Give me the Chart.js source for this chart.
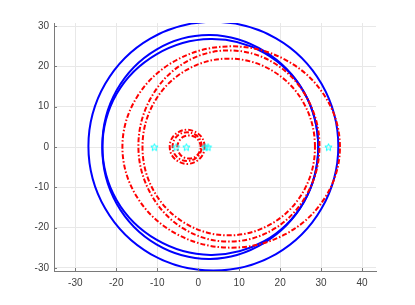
<!DOCTYPE html>
<html>
<head>
<meta charset="utf-8">
<script src="https://cdn.jsdelivr.net/npm/chart.js@4/dist/chart.umd.min.js"></script>
<style>
  body { margin: 0; background: #fff; }
</style>
</head>
<body>
<canvas id="orbitChart" width="415" height="305"></canvas>
<script>
const xTicks = [-30, -20, -10, 0, 10, 20, 30, 40];
const yTicks = [-30, -20, -10, 0, 10, 20, 30];

// blue loops (solid)
const blueOuter = [[34.2, 0.2], [30.1, 15.7], [19.0, 27.0], [3.7, 31.1], [-11.6, 27.0], [-22.7, 15.7],
  [-26.8, 0.2], [-22.7, -15.3], [-11.6, -26.6], [3.7, -30.7], [19.0, -26.6], [30.1, -15.3]];
const blueInnerA = [[29.3, 0], [25.8, 13.65], [16.1, 23.8], [2.95, 27.8], [-10.2, 24.2], [-19.9, 14.1],
  [-23.4, 0.4], [-19.9, -13.2], [-10.2, -23.0], [2.95, -26.8], [16.1, -23.4], [25.8, -13.65]];
const blueInnerB = [[29.3, 0], [25.8, 13.65], [16.1, 23.4], [2.95, 26.8], [-10.2, 23.0], [-19.9, 13.2],
  [-23.4, -0.4], [-19.9, -14.1], [-10.2, -24.2], [2.95, -27.8], [16.1, -23.8], [25.8, -13.65]];

// red loops (dash-dot)
const redOuter = [[34.6, 0], [31.0, 12.5], [21.3, 21.65], [8.05, 25.0], [-5.2, 21.65], [-14.9, 12.5],
  [-18.5, 0], [-14.9, -12.5], [-5.2, -21.65], [8.05, -25.0], [21.3, -21.65], [31.0, -12.5]];
const redMiddle = [[29.6, 0.25], [26.6, 12.1], [18.6, 20.8], [7.5, 24.0], [-3.55, 20.8], [-11.6, 12.1],
  [-14.6, 0.25], [-11.6, -11.6], [-3.55, -20.3], [7.5, -23.5], [18.6, -20.3], [26.6, -11.6]];
const redInner = [[28.5, 0], [25.7, 11.0], [18.0, 19.0], [7.45, 21.95], [-3.1, 19.0], [-10.8, 11.0],
  [-13.6, 0], [-10.8, -11.0], [-3.1, -19.0], [7.45, -21.95], [18.0, -19.0], [25.7, -11.0]];
const redSmall1 = [[1.55, 0.05], [1.0, 2.2], [-0.6, 3.7], [-2.7, 4.3], [-4.8, 3.7], [-6.4, 2.2],
  [-6.95, 0.05], [-6.4, -2.1], [-4.8, -3.6], [-2.7, -4.2], [-0.6, -3.6], [1.0, -2.1]];
const redSmall2 = [[0.85, 0.1], [0.4, 1.9], [-0.9, 3.2], [-2.7, 3.65], [-4.5, 3.2], [-5.8, 1.9],
  [-6.25, 0.1], [-5.8, -1.7], [-4.5, -3.0], [-2.7, -3.45], [-0.9, -3.0], [0.4, -1.7]];
const redSmall3 = [[0.6, 0], [0.2, 1.43], [-0.8, 2.5], [-2.25, 2.85], [-3.7, 2.5], [-4.7, 1.4],
  [-5.1, 0], [-4.7, -1.4], [-3.7, -2.5], [-2.25, -2.85], [-0.8, -2.5], [0.2, -1.4]];

// cyan star markers on y = 0
const starX = [-10.7, -5.4, -2.9, 1.7, 2.4, 31.8];
const starY = [0, 0, 0, 0, 0, 0];

const toXY = pts => pts.map(p => ({ x: p[0], y: p[1] }));

function starMarker(r, color) {
  const c = document.createElement('canvas');
  const s = Math.ceil(r * 2 + 3);
  c.width = s; c.height = s;
  const g = c.getContext('2d');
  g.strokeStyle = color;
  g.lineWidth = 1;
  g.beginPath();
  for (let i = 0; i < 10; i++) {
    const a = -Math.PI / 2 + i * Math.PI / 5;
    const rr = i % 2 ? r * 0.42 : r;
    const px = s / 2 + rr * Math.cos(a);
    const py = s / 2 + rr * Math.sin(a) + 0.5;
    if (i === 0) g.moveTo(px, py); else g.lineTo(px, py);
  }
  g.closePath();
  g.stroke();
  return c;
}

// closed loop: wrap one point on each side so the curve is smooth where it closes,
// and hide the two wrap segments
function loopLine(pts, color, dash) {
  const n = pts.length;
  const wrapped = [pts[n - 1], ...pts, pts[0], pts[1]];
  const last = wrapped.length - 2;
  return {
    data: toXY(wrapped),
    showLine: true,
    borderColor: color,
    borderWidth: 2,
    borderDash: dash || [],
    tension: 0.36,
    pointRadius: 0,
    fill: false,
    segment: {
      borderColor: ctx => (ctx.p0DataIndex === 0 || ctx.p0DataIndex === last) ? 'rgba(0,0,0,0)' : undefined
    }
  };
}

// inward tick marks on left and bottom axes
const innerTicks = {
  id: 'innerTicks',
  afterDraw(chart) {
    const ctx = chart.ctx;
    const { left, bottom } = chart.chartArea;
    const xs = chart.scales.x, ys = chart.scales.y;
    ctx.save();
    ctx.strokeStyle = '#7a7a7a';
    ctx.lineWidth = 1;
    ctx.beginPath();
    xTicks.forEach(v => {
      const px = Math.round(xs.getPixelForValue(v)) + 0.5;
      ctx.moveTo(px, bottom);
      ctx.lineTo(px, bottom - 3);
    });
    yTicks.forEach(v => {
      const py = Math.round(ys.getPixelForValue(v)) + 0.5;
      ctx.moveTo(left, py);
      ctx.lineTo(left + 3, py);
    });
    ctx.stroke();
    ctx.restore();
  }
};

const dashDot = [5, 2, 1.5, 2];

const data = {
  datasets: [
    {
      data: starX.map((x, i) => ({ x: x, y: starY[i] })),
      showLine: false,
      pointStyle: starMarker(3.8, '#00ffff'),
      pointRadius: 4
    },
    loopLine(redSmall3, '#ff0000', dashDot),
    loopLine(redSmall2, '#ff0000', dashDot),
    loopLine(redSmall1, '#ff0000', dashDot),
    loopLine(redInner, '#ff0000', dashDot),
    loopLine(redMiddle, '#ff0000', dashDot),
    loopLine(redOuter, '#ff0000', dashDot),
    loopLine(blueInnerB, '#0000ff'),
    loopLine(blueInnerA, '#0000ff'),
    loopLine(blueOuter, '#0000ff')
  ]
};

const tickFont = { family: 'Liberation Sans, Arial, sans-serif', size: 10 };

const config = {
  type: 'line',
  data: data,
  options: {
    responsive: false,
    animation: false,
    devicePixelRatio: 1,
    layout: { padding: { left: 0, top: 23, right: 39, bottom: 0 } },
    plugins: {
      legend: { display: false },
      tooltip: { enabled: false }
    },
    scales: {
      x: {
        type: 'linear',
        min: -35.2,
        max: 43.4,
        afterBuildTicks: s => { s.ticks = xTicks.map(v => ({ value: v })); },
        afterFit: s => { s.height = 34; },
        grid: { color: '#e8e8e8', drawTicks: false },
        border: { display: true, color: '#7a7a7a', width: 1 },
        ticks: { font: tickFont, color: '#404040', padding: 6, maxRotation: 0 }
      },
      y: {
        type: 'linear',
        min: -30.8,
        max: 30.8,
        afterBuildTicks: s => { s.ticks = yTicks.map(v => ({ value: v })); },
        afterFit: s => { s.width = 54; },
        grid: { color: '#e8e8e8', drawTicks: false },
        border: { display: true, color: '#7a7a7a', width: 1 },
        ticks: { font: tickFont, color: '#404040', padding: 5 }
      }
    }
  },
  plugins: [innerTicks]
};

new Chart(document.getElementById('orbitChart'), config);
</script>
</body>
</html>
